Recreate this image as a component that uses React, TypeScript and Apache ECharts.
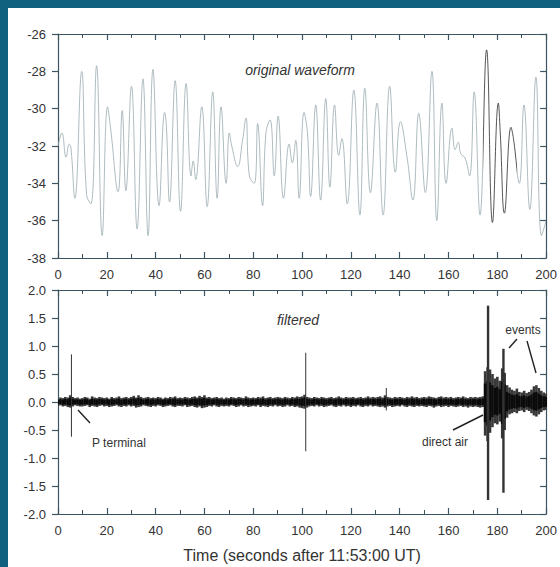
import React, { useEffect, useRef } from "react";
import * as echarts from "echarts";

// ---------- data ----------
// Original waveform: turning points (time s, value)
const waveT = [
  0, 1.6, 3.3, 4.6, 5.3, 6.9, 9.7, 11.7, 13.5, 15.8, 18.1, 20.3, 21.5, 24.6, 26.3, 27.8,
  30.1, 32.4, 34.8, 36.9, 38.9, 41.4, 43.7, 44.4, 45.7, 48.0, 50.2, 52.5, 54.5, 55.4,
  56.4, 58.9, 61.1, 63.4, 65.2, 66.8, 68.9, 70.2, 71.2, 73.6, 75.6, 77.0, 78.4, 80.4,
  81.8, 83.8, 85.2, 86.9, 88.6, 90.2, 92.4, 94.7, 96.0, 97.4, 98.8, 100.8, 102.2, 103.5,
  105.6, 107.6, 109.7, 111.4, 113.3, 115.0, 116.3, 118.5, 121.2, 123.7, 125.7, 128.0,
  130.7, 133.2, 135.9, 138.2, 140.3, 143.0, 145.4, 147.8, 150.5, 153.2, 155.2, 157.3,
  159.0, 161.4, 162.7, 164.0, 165.0, 166.8, 168.6, 170.5, 172.9, 175.6, 178.0, 180.4,
  181.2, 182.9, 185.6, 186.6, 189.0, 190.9, 193.3, 195.8, 198.1, 200,
];
const waveV = [
  -32.0, -31.3, -32.6, -31.9, -32.1, -34.8, -28.0, -34.6, -35.1, -27.7, -36.8, -29.9, -31.0,
  -34.45, -30.1, -34.4, -28.8, -36.45, -28.4, -36.8, -27.9, -35.2, -30.2, -30.9, -35.0,
  -28.5, -35.5, -28.65, -33.6, -32.8, -33.8, -29.9, -35.25, -29.1, -34.8, -29.9, -34.0,
  -31.3, -32.0, -33.1, -31.7, -30.5, -33.6, -34.0, -30.8, -35.2, -31.3, -30.6, -33.6,
  -30.4, -34.8, -31.9, -32.9, -31.7, -34.8, -30.2, -31.3, -34.7, -29.8, -34.9, -29.45,
  -34.2, -29.8, -32.5, -31.6, -35.1, -29.0, -35.7, -28.9, -34.5, -29.7, -35.7, -28.8,
  -33.4, -30.7, -32.6, -34.9, -30.25, -34.5, -28.0, -36.0, -29.7, -34.0, -31.05, -32.2,
  -31.8, -32.4, -32.65, -33.6, -29.1, -35.7, -26.85, -36.1, -29.7, -31.3, -35.6, -31.0,
  -31.6, -34.0, -29.8, -35.4, -28.3, -36.8, -36.0,
];

// Filtered trace: per-second envelope (upper / lower)
const filtHi = [
  0.06, 0.08, 0.07, 0.09, 0.08, 0.12, 0.09, 0.07, 0.08, 0.06,
  0.07, 0.09, 0.08, 0.06, 0.1, 0.08, 0.07, 0.09, 0.08, 0.07,
  0.08, 0.06, 0.09, 0.07, 0.08, 0.1, 0.07, 0.08, 0.09, 0.07,
  0.09, 0.11, 0.08, 0.12, 0.09, 0.07, 0.08, 0.09, 0.07, 0.08,
  0.07, 0.09, 0.08, 0.06, 0.08, 0.07, 0.09, 0.08, 0.1, 0.07,
  0.08, 0.07, 0.09, 0.08, 0.07, 0.09, 0.1, 0.08, 0.11, 0.09,
  0.12, 0.08, 0.09, 0.07, 0.08, 0.09, 0.07, 0.08, 0.06, 0.08,
  0.07, 0.09, 0.08, 0.07, 0.09, 0.08, 0.07, 0.1, 0.08, 0.07,
  0.08, 0.07, 0.09, 0.08, 0.1, 0.07, 0.08, 0.09, 0.07, 0.08,
  0.09, 0.08, 0.07, 0.09, 0.08, 0.07, 0.09, 0.08, 0.1, 0.09,
  0.1, 0.13, 0.09, 0.08, 0.07, 0.09, 0.08, 0.07, 0.09, 0.08,
  0.07, 0.08, 0.09, 0.07, 0.08, 0.1, 0.08, 0.07, 0.09, 0.08,
  0.08, 0.09, 0.07, 0.08, 0.09, 0.07, 0.08, 0.1, 0.08, 0.09,
  0.08, 0.09, 0.1, 0.08, 0.12, 0.09, 0.08, 0.07, 0.09, 0.08,
  0.09, 0.08, 0.07, 0.09, 0.08, 0.1, 0.08, 0.09, 0.07, 0.08,
  0.09, 0.08, 0.1, 0.09, 0.08, 0.07, 0.09, 0.1, 0.08, 0.09,
  0.08, 0.09, 0.07, 0.08, 0.09, 0.08, 0.1, 0.08, 0.07, 0.09,
  0.08, 0.09, 0.08, 0.09, 0.1, 0.55, 0.62, 0.58, 0.5, 0.42,
  0.45, 0.38, 0.6, 0.52, 0.3, 0.26, 0.22, 0.2, 0.24, 0.18,
  0.17, 0.2, 0.16, 0.18, 0.22, 0.28, 0.3, 0.25, 0.2, 0.17,
  0.15,
];
const filtLo = [
  -0.07, -0.06, -0.08, -0.07, -0.09, -0.1, -0.08, -0.06, -0.07, -0.08,
  -0.08, -0.07, -0.06, -0.09, -0.07, -0.08, -0.09, -0.07, -0.06, -0.08,
  -0.07, -0.09, -0.08, -0.07, -0.06, -0.08, -0.09, -0.07, -0.08, -0.06,
  -0.08, -0.07, -0.1, -0.09, -0.08, -0.06, -0.07, -0.08, -0.09, -0.07,
  -0.08, -0.06, -0.07, -0.09, -0.08, -0.07, -0.06, -0.08, -0.09, -0.07,
  -0.07, -0.08, -0.06, -0.09, -0.08, -0.07, -0.09, -0.1, -0.08, -0.11,
  -0.1, -0.09, -0.07, -0.08, -0.06, -0.08, -0.09, -0.07, -0.08, -0.07,
  -0.08, -0.06, -0.07, -0.09, -0.08, -0.06, -0.08, -0.07, -0.09, -0.08,
  -0.07, -0.08, -0.06, -0.09, -0.07, -0.08, -0.09, -0.07, -0.08, -0.06,
  -0.08, -0.07, -0.09, -0.08, -0.06, -0.08, -0.07, -0.09, -0.08, -0.1,
  -0.11, -0.12, -0.1, -0.08, -0.07, -0.08, -0.06, -0.08, -0.07, -0.09,
  -0.08, -0.07, -0.06, -0.08, -0.09, -0.07, -0.08, -0.06, -0.08, -0.07,
  -0.09, -0.07, -0.08, -0.06, -0.08, -0.09, -0.07, -0.08, -0.06, -0.08,
  -0.07, -0.08, -0.09, -0.08, -0.1, -0.08, -0.07, -0.09, -0.08, -0.07,
  -0.08, -0.06, -0.08, -0.09, -0.07, -0.08, -0.09, -0.07, -0.08, -0.07,
  -0.08, -0.09, -0.07, -0.08, -0.1, -0.08, -0.07, -0.09, -0.08, -0.07,
  -0.09, -0.07, -0.08, -0.09, -0.08, -0.07, -0.09, -0.08, -0.1, -0.08,
  -0.09, -0.08, -0.09, -0.1, -0.09, -0.6, -0.7, -0.55, -0.45, -0.38,
  -0.4, -0.35, -0.65, -0.5, -0.28, -0.22, -0.2, -0.18, -0.2, -0.16,
  -0.15, -0.18, -0.14, -0.16, -0.2, -0.24, -0.26, -0.22, -0.18, -0.15,
  -0.14,
];
// Isolated spikes in the filtered trace
const spikeT = [5.5, 101.5, 134.5, 176.2, 182.5];
const spikeHi = [0.85, 0.88, 0.25, 1.72, 0.95];
const spikeLo = [-0.62, -0.88, -0.15, -1.75, -1.62];

// Axis ticks
const xTicks = { min: 0, max: 200, interval: 20 };
const topY = { min: -38, max: -26, interval: 2 };
const botY = { min: -2, max: 2, interval: 0.5 };

const FONT = "Liberation Sans, Arial, sans-serif";
const AXIS = "#3d5560";
const TXT = "#333";

export default function App() {
  const ref = useRef<HTMLDivElement>(null);
  useEffect(() => {
    document.body.style.margin = "0";
    const chart = echarts.init(ref.current!, null, { renderer: "svg" });

    const xBase = (gridIndex: number, labels: boolean, pos: "top" | "bottom", name?: string) => ({
      type: "value",
      gridIndex,
      position: pos,
      ...xTicks,
      name,
      nameLocation: "middle",
      nameGap: 33,
      nameTextStyle: { fontFamily: FONT, fontSize: 16, color: TXT },
      axisLine: { onZero: false, lineStyle: { color: AXIS, width: 1.2 } },
      axisTick: { show: true, inside: true, length: 6, lineStyle: { color: AXIS, width: 1.2 } },
      minorTick: { show: true, splitNumber: 2, length: 4, lineStyle: { color: AXIS, width: 1 } },
      axisLabel: { show: labels, fontFamily: FONT, fontSize: 13, color: TXT, margin: 10 },
      splitLine: { show: false },
    });
    const yBase = (gridIndex: number, labels: boolean, pos: "left" | "right", r: any, fmt?: (v: number) => string) => ({
      type: "value",
      gridIndex,
      position: pos,
      ...r,
      axisLine: { onZero: false, lineStyle: { color: AXIS, width: 1.2 } },
      axisTick: { show: true, inside: !labels, length: 6, lineStyle: { color: AXIS, width: 1.2 } },
      axisLabel: { show: labels, fontFamily: FONT, fontSize: 13, color: TXT, margin: 12, formatter: fmt },
      splitLine: { show: false },
    });

    const vline = (lwFn: (hi: number, lo: number) => number, color: string, halo?: string) => (params: any, api: any) => {
      const t = api.value(0);
      const hi = api.value(1);
      const lo = api.value(2);
      const p1 = api.coord([t, hi]);
      const p2 = api.coord([t, lo]);
      const shape = { x1: p1[0], y1: p1[1], x2: p2[0], y2: p2[1] };
      const core = { type: "line", shape, style: { stroke: color, lineWidth: lwFn(hi, lo) } };
      if (!halo) return core;
      const pm = api.coord([t, hi * 0.6]);
      const pn = api.coord([t, lo * 0.6]);
      return {
        type: "group",
        children: [
          { type: "line", shape, style: { stroke: halo, lineWidth: 2.6 } },
          { type: "line", shape: { x1: pm[0], y1: pm[1], x2: pn[0], y2: pn[1] }, style: { stroke: color, lineWidth: 2.6 } },
        ],
      };
    };

    const filtData = filtHi.map((h, i) => [i, h, filtLo[i]]);
    const spikeData = spikeT.map((t, i) => [t, spikeHi[i], spikeLo[i]]);

    chart.setOption({
      animation: false,
      backgroundColor: "#ffffff",
      grid: [
        { left: 58, right: 12, top: 34, height: 224 },
        { left: 58, right: 12, top: 290, height: 224 },
      ],
      xAxis: [
        xBase(0, true, "bottom"),
        xBase(0, false, "top"),
        xBase(1, true, "bottom", "Time (seconds after 11:53:00 UT)"),
        xBase(1, false, "top"),
      ],
      yAxis: [
        yBase(0, true, "left", topY, (v: number) => String(v)),
        yBase(0, false, "right", topY),
        yBase(1, true, "left", botY, (v: number) => v.toFixed(1)),
        yBase(1, false, "right", botY),
      ],
      visualMap: {
        show: false,
        type: "piecewise",
        seriesIndex: 0,
        dimension: 0,
        pieces: [
          { min: 0, max: 174, color: "#9aaab0" },
          { gt: 174, lte: 188, color: "#2a2a2a" },
          { gt: 188, max: 200, color: "#9aaab0" },
        ],
      },
      series: [
        {
          type: "line",
          xAxisIndex: 0,
          yAxisIndex: 0,
          data: waveT.map((t, i) => [t, waveV[i]]),
          smooth: 0.45,
          showSymbol: false,
          lineStyle: { width: 0.8 },
          clip: true,
        },
        {
          type: "custom",
          xAxisIndex: 2,
          yAxisIndex: 2,
          data: filtData,
          encode: { x: 0, y: [1, 2] },
          renderItem: vline(() => 2.6, "#0a0a0a", "#383838"),
          clip: true,
        },
        {
          type: "custom",
          xAxisIndex: 2,
          yAxisIndex: 2,
          data: spikeData,
          encode: { x: 0, y: [1, 2] },
          renderItem: vline((hi, lo) => (hi - lo > 2 ? 2.4 : 1), "#333333"),
          clip: true,
        },
      ],
      graphic: [
        { type: "rect", left: 0, top: 0, shape: { width: 8, height: 567 }, style: { fill: "#10617f" } },
        { type: "rect", left: 0, top: 0, shape: { width: 560, height: 8 }, style: { fill: "#10617f" } },
        {
          type: "text", x: 300, y: 70,
          style: { text: "original waveform", font: `italic 14px ${FONT}`, fill: TXT, align: "center", verticalAlign: "middle" },
        },
        {
          type: "text", x: 298, y: 320,
          style: { text: "filtered", font: `italic 14px ${FONT}`, fill: TXT, align: "center", verticalAlign: "middle" },
        },
        { type: "line", shape: { x1: 78, y1: 410, x2: 90, y2: 423 }, style: { stroke: "#222", lineWidth: 1.4 } },
        {
          type: "text", x: 92, y: 443,
          style: { text: "P terminal", font: `12px ${FONT}`, fill: TXT, align: "left", verticalAlign: "middle" },
        },
        { type: "line", shape: { x1: 453, y1: 430, x2: 483, y2: 415 }, style: { stroke: "#222", lineWidth: 1.4 } },
        {
          type: "text", x: 445, y: 442,
          style: { text: "direct air", font: `12px ${FONT}`, fill: TXT, align: "center", verticalAlign: "middle" },
        },
        {
          type: "text", x: 523, y: 330,
          style: { text: "events", font: `12px ${FONT}`, fill: TXT, align: "center", verticalAlign: "middle" },
        },
        { type: "line", shape: { x1: 517, y1: 339, x2: 509, y2: 348 }, style: { stroke: "#222", lineWidth: 1.4 } },
        { type: "line", shape: { x1: 527, y1: 341, x2: 536, y2: 373 }, style: { stroke: "#222", lineWidth: 1.4 } },
      ],
    });
    return () => chart.dispose();
  }, []);
  return <div ref={ref} style={{ width: 560, height: 567 }} />;
}
